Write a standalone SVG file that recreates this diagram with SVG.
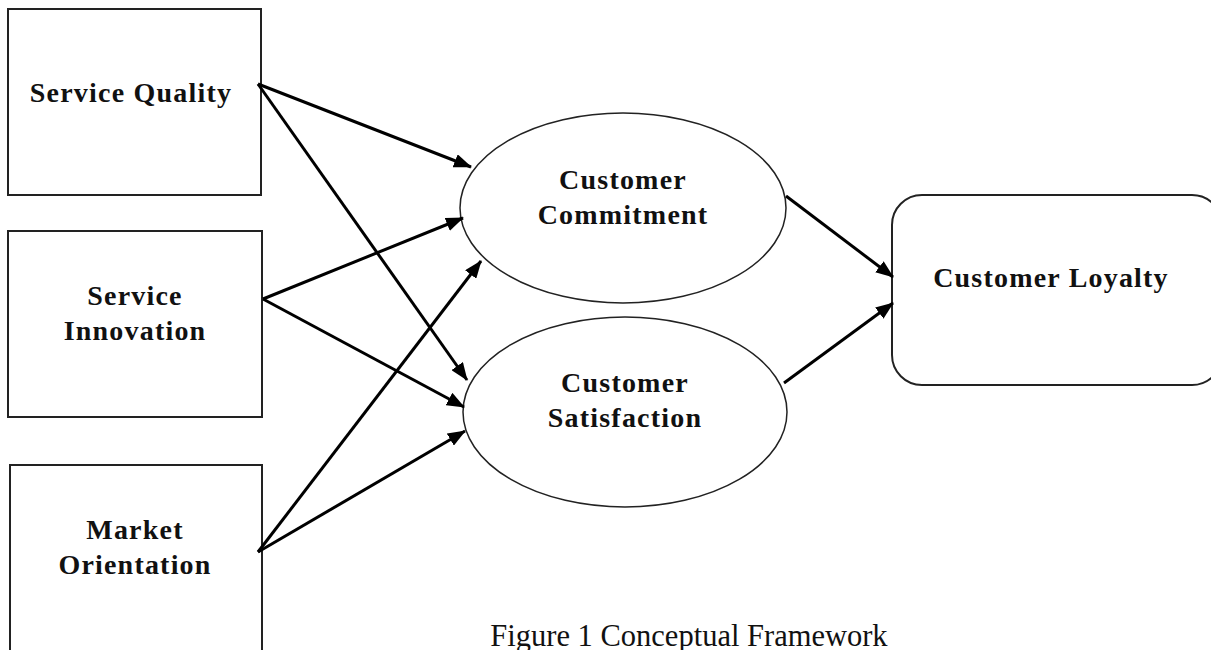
<svg xmlns="http://www.w3.org/2000/svg" width="1211" height="650" viewBox="0 0 1211 650">
  <style>
    .box { fill: #fff; stroke: #222; stroke-width: 2; }
    .oval { fill: #fff; stroke: #222; stroke-width: 1.5; }
    .lbl { font-family: "Liberation Serif", "Times New Roman", serif; font-weight: bold; font-size: 28px; fill: #111; text-anchor: middle; letter-spacing: 1.2px; }
    .cap { font-family: "Liberation Serif", "Times New Roman", serif; font-size: 30.5px; fill: #111; text-anchor: middle; }
    .edge { stroke: #000; stroke-width: 3; fill: none; marker-end: url(#arrow); }
  </style>
  <defs>
    <marker id="arrow" markerUnits="userSpaceOnUse" markerWidth="18" markerHeight="14" refX="17" refY="7" orient="auto">
      <path d="M0,0 L18,7 L0,14 Z" fill="#000"/>
    </marker>
  </defs>
  <rect width="1211" height="650" fill="#fff"/>

  <g id="service-quality">
    <rect class="box" x="8" y="9" width="253" height="186"/>
    <text class="lbl" x="131" y="102">Service Quality</text>
  </g>
  <g id="service-innovation">
    <rect class="box" x="8" y="231" width="254" height="186"/>
    <text class="lbl" x="135" y="305">Service</text>
    <text class="lbl" x="135" y="340">Innovation</text>
  </g>
  <g id="market-orientation">
    <rect class="box" x="10" y="465" width="252" height="200"/>
    <text class="lbl" x="135" y="539">Market</text>
    <text class="lbl" x="135" y="574">Orientation</text>
  </g>
  <g id="customer-commitment">
    <ellipse class="oval" cx="623" cy="208" rx="163" ry="95"/>
    <text class="lbl" x="623" y="189">Customer</text>
    <text class="lbl" x="623" y="224">Commitment</text>
  </g>
  <g id="customer-satisfaction">
    <ellipse class="oval" cx="625" cy="412" rx="162" ry="95"/>
    <text class="lbl" x="625" y="392">Customer</text>
    <text class="lbl" x="625" y="427">Satisfaction</text>
  </g>
  <g id="customer-loyalty">
    <rect class="box" x="892" y="195" width="330" height="190" rx="30" ry="30"/>
    <text class="lbl" x="1051" y="287">Customer  Loyalty</text>
  </g>

  <g id="connectors">
    <line class="edge" x1="258" y1="84" x2="471" y2="167"/>
    <line class="edge" x1="258" y1="84" x2="467" y2="380"/>
    <line class="edge" x1="263" y1="299" x2="463" y2="218"/>
    <line class="edge" x1="263" y1="299" x2="464" y2="407"/>
    <line class="edge" x1="258" y1="552" x2="481" y2="261"/>
    <line class="edge" x1="258" y1="552" x2="465" y2="431"/>
    <line class="edge" x1="786" y1="196" x2="893" y2="277"/>
    <line class="edge" x1="784" y1="383" x2="893" y2="303"/>
  </g>

  <text class="cap" x="689" y="646">Figure 1 Conceptual Framework</text>
</svg>
